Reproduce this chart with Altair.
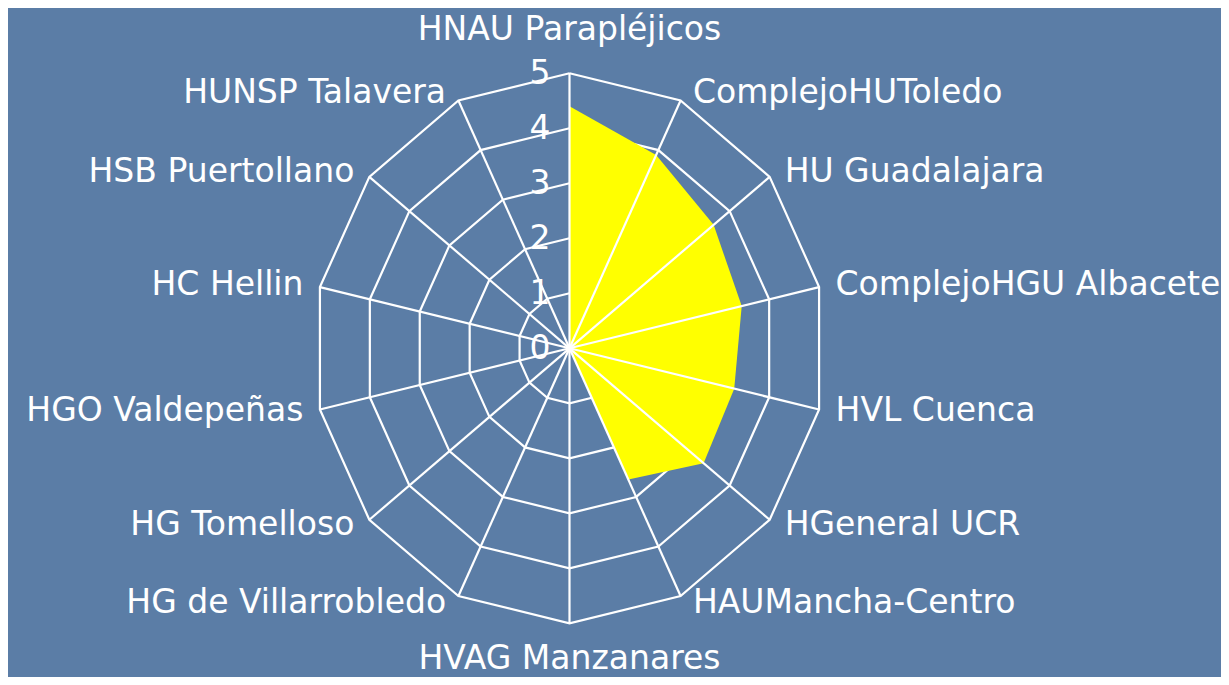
import altair as alt
import pandas as pd

# ---- data ----
categories = [
    "HNAU Parapléjicos", "ComplejoHUToledo", "HU Guadalajara",
    "ComplejoHGU Albacete", "HVL Cuenca", "HGeneral UCR",
    "HAUMancha-Centro", "HVAG Manzanares", "HG de Villarrobledo",
    "HG Tomelloso", "HGO Valdepeñas", "HC Hellin",
    "HSB Puertollano", "HUNSP Talavera",
]
values = [4.4, 3.9, 3.6, 3.45, 3.3, 3.35, 2.65, 0, 0, 0, 0, 0, 0, 0]
levels = [1, 2, 3, 4, 5]
tick_labels = ["0", "1", "2", "3", "4", "5"]
r_max = 5

n = len(categories)

# ---- tables built from the arrays ----
series_df = pd.DataFrame({"idx": list(range(n)), "cat": categories, "r": values})

ring_rows = []
for lv in levels:
    for k in range(n + 1):
        ring_rows.append({"level": lv, "k": k, "idx": k % n, "r": lv})
ring_df = pd.DataFrame(ring_rows)

spoke_df = pd.DataFrame({"idx": list(range(n)), "r": [r_max] * n})

tick_df = pd.DataFrame({"label": tick_labels, "r": [float(t) for t in tick_labels], "idx": [0] * len(tick_labels)})

label_r = r_max * 1.03


def side(i):
    if i == 0:
        return "top"
    if i == n // 2:
        return "bottom"
    return "right" if i < n // 2 else "left"


label_df = pd.DataFrame({
    "idx": list(range(n)),
    "cat": categories,
    "r": [label_r] * n,
    "side": [side(i) for i in range(n)],
})

# ---- geometry ----
W, H = 1213, 669
cx, cy = 561.5, 340.3          # centre inside the chart
ppu_x, ppu_y = 51.2, 55.0        # pixels per unit
xdom = [-cx / ppu_x, (W - cx) / ppu_x]
ydom = [-(H - cy) / ppu_y, cy / ppu_y]

X = alt.X("px:Q", scale=alt.Scale(domain=xdom, nice=False, zero=False), axis=None)
Y = alt.Y("py:Q", scale=alt.Scale(domain=ydom, nice=False, zero=False), axis=None)


def polar(chart):
    return chart.transform_calculate(
        ang=f"datum.idx * 2 * PI / {n}"
    ).transform_calculate(
        px="datum.r * sin(datum.ang)",
        py="datum.r * cos(datum.ang)",
    )


FONT = "DejaVu Sans"
FS = 33

rings = polar(alt.Chart(ring_df)).mark_line(
    color="white", strokeWidth=2.2, strokeJoin="miter"
).encode(x=X, y=Y, detail="level:N", order="k:Q")

area = polar(alt.Chart(series_df)).mark_line(
    filled=True, fill="#ffff00", strokeWidth=0, fillOpacity=1, interpolate="linear"
).encode(x=X, y=Y, order="idx:Q")

spokes = polar(alt.Chart(spoke_df)).mark_rule(
    color="white", strokeWidth=2.2
).encode(x=X, y=Y, x2=alt.datum(0), y2=alt.datum(0))

ticks = polar(alt.Chart(tick_df)).mark_text(
    align="right", baseline="middle", dx=-19, dy=1,
    font=FONT, fontSize=FS, color="white"
).encode(x=X, y=Y, text="label:N")

lab_base = polar(alt.Chart(label_df))
lab_right = lab_base.transform_filter("datum.side == 'right'").mark_text(
    align="left", baseline="middle", dx=9, font=FONT, fontSize=FS, color="white"
).encode(x=X, y=Y, text="cat:N")
lab_left = lab_base.transform_filter("datum.side == 'left'").mark_text(
    align="right", baseline="middle", dx=-9, font=FONT, fontSize=FS, color="white"
).encode(x=X, y=Y, text="cat:N")
lab_top = lab_base.transform_filter("datum.side == 'top'").mark_text(
    align="center", baseline="middle", dy=-35, font=FONT, fontSize=FS, color="white"
).encode(x=X, y=Y, text="cat:N")
lab_bottom = lab_base.transform_filter("datum.side == 'bottom'").mark_text(
    align="center", baseline="middle", dy=27, font=FONT, fontSize=FS, color="white"
).encode(x=X, y=Y, text="cat:N")

chart = alt.layer(
    rings, area, spokes, ticks, lab_right, lab_left, lab_top, lab_bottom
).properties(
    width=W, height=H, autosize=alt.AutoSizeParams(type="none"), padding=0
).configure(
    background="#5b7da6"
).configure_view(stroke=None)

chart.save("out.html", embed_options={"renderer": "svg", "actions": False})
